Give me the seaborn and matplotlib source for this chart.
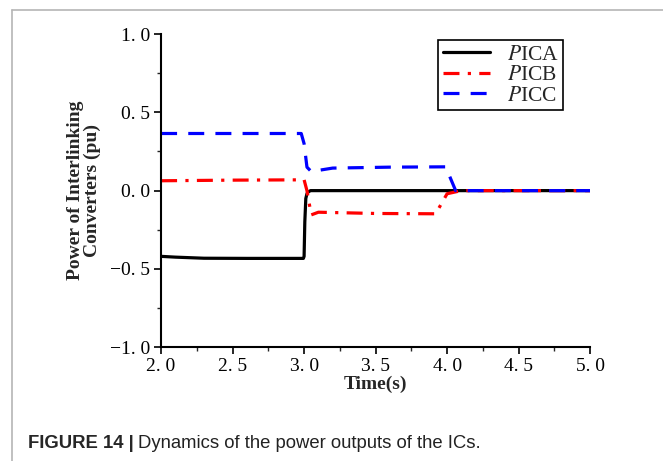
import matplotlib
matplotlib.use("Agg")
import matplotlib.pyplot as plt
from matplotlib.lines import Line2D
from matplotlib.ticker import MultipleLocator
import seaborn as sns

# Power outputs of the three interlinking converters (pu) over time (s)
t_ica = [2.0, 2.1, 2.3, 2.6, 2.995, 3.0, 3.005, 3.012, 3.02, 3.03, 3.045, 3.1, 4.0, 5.0]
p_ica = [-0.420, -0.425, -0.432, -0.433, -0.433, -0.42, -0.20, -0.05, -0.02, -0.008, 0.0, 0.0, 0.0, 0.0]

t_icb = [2.0, 2.5, 3.0, 3.02, 3.05, 3.1, 3.5, 3.92, 4.0, 4.1, 4.5, 5.0]
p_icb = [0.063, 0.067, 0.069, 0.0, -0.155, -0.138, -0.146, -0.148, -0.020, 0.0, 0.0, 0.0]

t_icc = [2.0, 2.5, 2.98, 3.0, 3.02, 3.05, 3.2, 3.6, 3.99, 4.06, 4.5, 5.0]
p_icc = [0.365, 0.365, 0.365, 0.30, 0.15, 0.122, 0.144, 0.150, 0.152, 0.0, 0.0, 0.0]

x_ticks = [2.0, 2.5, 3.0, 3.5, 4.0, 4.5, 5.0]
x_tick_labels = ["2. 0", "2. 5", "3. 0", "3. 5", "4. 0", "4. 5", "5. 0"]
y_ticks = [-1.0, -0.5, 0.0, 0.5, 1.0]
y_tick_labels = ["\u22121. 0", "\u22120. 5", "0. 0", "0. 5", "1. 0"]

series_names = ["$P$ICA", "$P$ICB", "$P$ICC"]
series_colors = ["#000000", "#ff0000", "#0000ff"]

sns.set_style("ticks")
plt.rcParams["font.family"] = ["Liberation Serif", "DejaVu Serif"]
plt.rcParams["mathtext.fontset"] = "stix"

fig = plt.figure(figsize=(6.63, 4.61), dpi=100)
ax = fig.add_axes([0.243, 0.247, 0.647, 0.679])

lw = 2.3
sns.lineplot(x=t_ica, y=p_ica, ax=ax, color=series_colors[0], lw=lw,
             estimator=None, sort=False, label=series_names[0])
sns.lineplot(x=t_icb, y=p_icb, ax=ax, color=series_colors[1], lw=lw,
             estimator=None, sort=False, label=series_names[1])
sns.lineplot(x=t_icc, y=p_icc, ax=ax, color=series_colors[2], lw=lw,
             estimator=None, sort=False, label=series_names[2])
ax.lines[1].set_dashes([5.0, 2.6, 1.0, 2.6])
ax.lines[2].set_dashes([5.0, 3.5])

ax.set_xlim(2.0, 5.0)
ax.set_ylim(-1.0, 1.0)
ax.set_xticks(x_ticks)
ax.set_xticklabels(x_tick_labels)
ax.set_yticks(y_ticks)
ax.set_yticklabels(y_tick_labels)
ax.xaxis.set_minor_locator(MultipleLocator(0.25))
ax.yaxis.set_minor_locator(MultipleLocator(0.25))
ax.tick_params(which="major", direction="out", length=5, width=1.2,
               labelsize=14, colors="#000000", pad=3)
ax.tick_params(which="minor", direction="out", length=3, width=1.0)
for s in ("left", "bottom"):
    ax.spines[s].set_linewidth(1.5)
    ax.spines[s].set_color("#000000")
sns.despine(ax=ax)

ax.set_xlabel("Time(s)", fontsize=14, fontweight="bold", labelpad=0)
ax.set_ylabel("Power of Interlinking\nConverters (pu)", fontsize=14,
              fontweight="bold", labelpad=6, linespacing=1.0)

leg = ax.legend(loc="upper left", bbox_to_anchor=(0.646, 0.98),
                fontsize=15.5, handlelength=2.2, handletextpad=0.8,
                labelspacing=0.02, borderpad=0.2, borderaxespad=0,
                frameon=True, fancybox=False, framealpha=1,
                edgecolor="#000000")
leg.get_frame().set_linewidth(1.2)

# card border around the figure
fig.add_artist(Line2D([12 / 663, 12 / 663], [0, 1 - 10 / 461],
                      transform=fig.transFigure, color="#b5b5b5", lw=1.2))
fig.add_artist(Line2D([12 / 663, 1], [1 - 10 / 461, 1 - 10 / 461],
                      transform=fig.transFigure, color="#b5b5b5", lw=1.2))

cap_y = 1 - 443 / 461
fig.text(28 / 663, cap_y, "FIGURE 14 |", fontsize=13.3, fontweight="bold",
         family="Liberation Sans", va="center", ha="left")
fig.text(138 / 663, cap_y, "Dynamics of the power outputs of the ICs.",
         fontsize=13.3, family="Liberation Sans", va="center", ha="left",
         color="#222222")

fig.savefig("out.png", dpi=100)
